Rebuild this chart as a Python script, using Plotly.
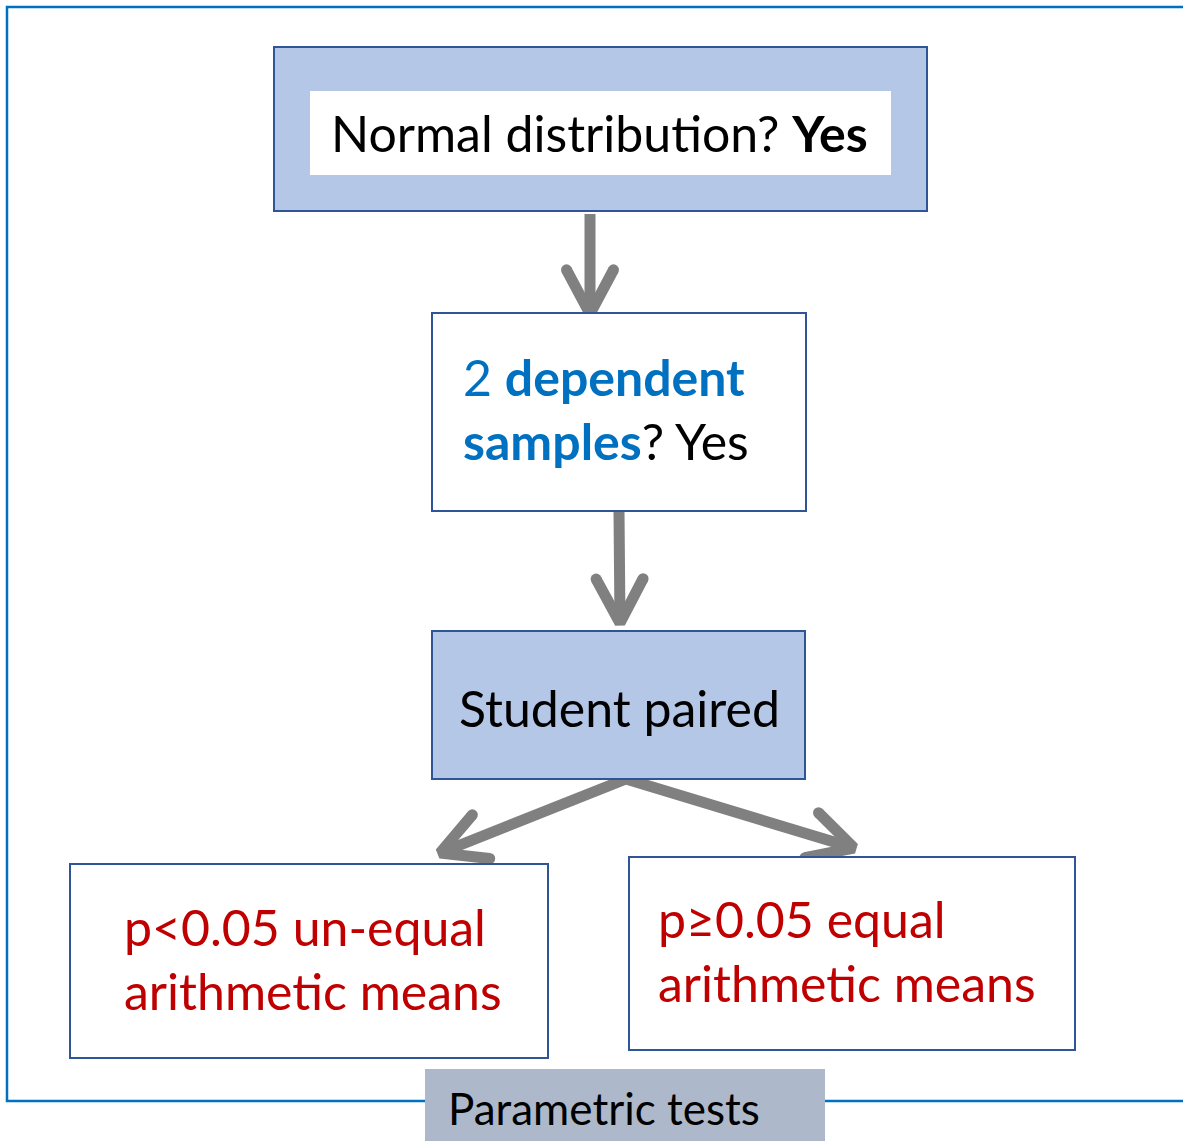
import plotly.graph_objects as go
import math

W, H = 1183, 1141

# ---- content (text of the flowchart nodes) ----
node_lines = [
    ["Normal distribution? <b>Yes</b>"],
    ["2 <b>dependent</b>", "<b>samples</b><span style='color:#000000'>? Yes</span>"],
    ["Student paired"],
    ["p<0.05 un-equal", "arithmetic means"],
    ["p≥0.05 equal", "arithmetic means"],
]
node_text_colors = ["#000000", "#0070C0", "#000000", "#C00000", "#C00000"]
caption = "Parametric tests"

# ---- layout geometry (page pixels) ----
boxes = [  # x0, y0, x1, y1, fill
    (274, 47, 927, 211, "#B4C7E7"),
    (432, 313, 806, 511, "#FFFFFF"),
    (432, 631, 805, 779, "#B4C7E7"),
    (70, 864, 548, 1058, "#FFFFFF"),
    (629, 857, 1075, 1050, "#FFFFFF"),
]
inner_white = (310, 91, 891, 175)
text_anchor = [  # x, first-line y, xanchor
    (599, 133, "center"),
    (461, 377, "left"),
    (619, 708, "center"),
    (122, 927, "left"),
    (656, 919, "left"),
]
line_gap = 64
arrows = [  # start (x, y), tip (x, y)
    ((590, 214), (590, 314)),
    ((619, 512), (620, 623)),
    ((626, 779), (440, 853)),
    ((626, 779), (854, 848)),
]

fig = go.Figure()
shapes = []
# outer frame
shapes.append(dict(type="rect", x0=7, y0=7, x1=1200, y1=1101,
                   line=dict(color="#0070C0", width=2.5), fillcolor="rgba(0,0,0,0)", layer="below"))
for (x0, y0, x1, y1, fc) in boxes:
    shapes.append(dict(type="rect", x0=x0, y0=y0, x1=x1, y1=y1,
                       line=dict(color="#2F5597", width=2), fillcolor=fc))
shapes.append(dict(type="rect", x0=inner_white[0], y0=inner_white[1], x1=inner_white[2], y1=inner_white[3],
                   line=dict(width=0), fillcolor="#FFFFFF"))
# caption box
shapes.append(dict(type="rect", x0=425, y0=1069, x1=825, y1=1150,
                   line=dict(width=0), fillcolor="#ADB9CA"))
fig.update_layout(shapes=shapes)

# arrows as line traces with open chevron heads
L, ang, LW = 50, math.radians(28), 11
for (s, t) in arrows:
    dx, dy = t[0] - s[0], t[1] - s[1]
    th = math.atan2(dy, dx)
    w1 = (t[0] - L * math.cos(th - ang), t[1] - L * math.sin(th - ang))
    w2 = (t[0] - L * math.cos(th + ang), t[1] - L * math.sin(th + ang))
    xs = [s[0], t[0], None, w1[0], t[0], w2[0]]
    ys = [s[1], t[1], None, w1[1], t[1], w2[1]]
    fig.add_trace(go.Scatter(x=xs, y=ys, mode="lines", line=dict(color="#808080", width=LW),
                             hoverinfo="skip", showlegend=False))
    fig.add_trace(go.Scatter(x=[w1[0], w2[0]], y=[w1[1], w2[1]], mode="markers",
                             marker=dict(color="#808080", size=LW), hoverinfo="skip", showlegend=False))

FONT = "Lato"
FS = 50
annotations = []
for lines, col, (ax, ay, xa) in zip(node_lines, node_text_colors, text_anchor):
    for i, ln in enumerate(lines):
        annotations.append(dict(x=ax, y=ay + i * line_gap, xref="x", yref="y", text=ln,
                                showarrow=False, xanchor=xa, yanchor="middle",
                                font=dict(family=FONT, size=FS, color=col)))
annotations.append(dict(x=446, y=1108, xref="x", yref="y", text=caption, showarrow=False,
                        xanchor="left", yanchor="middle",
                        font=dict(family=FONT, size=44, color="#000000")))
fig.update_layout(annotations=annotations)

fig.update_layout(
    width=W, height=H, margin=dict(l=0, r=0, t=0, b=0),
    paper_bgcolor="#FFFFFF", plot_bgcolor="#FFFFFF",
    xaxis=dict(range=[0, W], visible=False, fixedrange=True),
    yaxis=dict(range=[H, 0], visible=False, fixedrange=True),
)
fig.write_html("out.html", config={"displayModeBar": False},
               post_script="document.body.style.margin='0';document.body.style.overflow='hidden';")
